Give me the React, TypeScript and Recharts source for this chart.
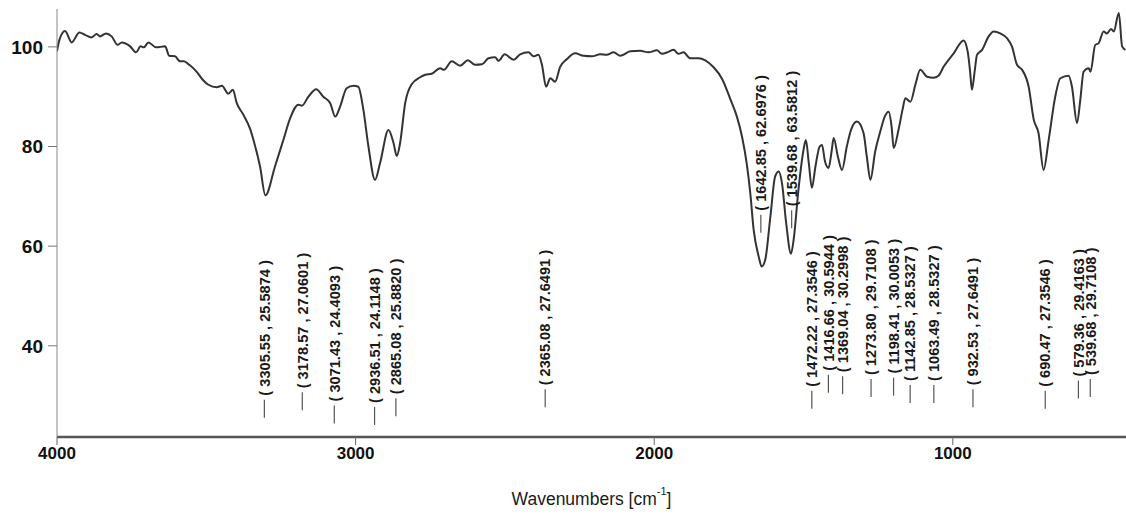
import { ComposedChart, Line, Scatter, XAxis, YAxis } from "recharts"

const FONT = "'Liberation Sans', Arial, sans-serif"

// IR spectrum, wavenumber (cm-1) vs transmittance (%)
const WAVENUMBERS = [
  4000, 3992, 3973, 3951, 3925, 3906, 3884, 3867, 3856, 3836, 3817, 3797, 3783, 3755, 3735, 3720, 3709, 3694,
  3668, 3638, 3624, 3605, 3588, 3575, 3557, 3532, 3512, 3493, 3465, 3448, 3426, 3411, 3398, 3376, 3353, 3342,
  3320, 3302, 3270, 3242, 3219, 3192, 3180, 3158, 3132, 3108, 3085, 3068, 3052, 3030, 3007, 2991, 2974, 2957,
  2935, 2918, 2890, 2873, 2862, 2851, 2834, 2812, 2784, 2767, 2745, 2717, 2704, 2678, 2650, 2624, 2600, 2577,
  2555, 2533, 2521, 2501, 2471, 2449, 2421, 2404, 2388, 2376, 2362, 2348, 2332, 2315, 2293, 2265, 2237, 2209,
  2181, 2159, 2136, 2114, 2080, 2047, 2019, 1991, 1974, 1952, 1935, 1919, 1902, 1879, 1852, 1829, 1801, 1773,
  1745, 1723, 1706, 1690, 1678, 1667, 1650, 1640, 1628, 1611, 1595, 1583, 1572, 1558, 1542, 1533, 1517, 1500,
  1492, 1482, 1472, 1460, 1446, 1438, 1428, 1416, 1406, 1399, 1385, 1371, 1355, 1340, 1321, 1299, 1288, 1276,
  1260, 1243, 1228, 1215, 1205, 1198, 1182, 1168, 1159, 1142, 1125, 1109, 1086, 1065, 1048, 1031, 997, 964,
  950, 942, 936, 926, 919, 902, 880, 863, 841, 818, 802, 785, 768, 746, 729, 713, 696, 679, 657, 640, 612, 601,
  584, 573, 562, 545, 539, 523, 512, 495, 484, 470, 461, 444, 433, 422,
]

const TRANSMITTANCE = [
  99.1, 101.4, 103.2, 100.9, 102.9, 102.4, 101.9, 102.6, 102.1, 102.7, 102.1, 100.4, 100.9, 100.1, 98.9, 100.1,
  99.9, 100.9, 99.9, 100.1, 98.2, 98.1, 97.1, 97.1, 96.4, 95.0, 93.4, 92.4, 91.9, 92.2, 90.6, 91.4, 88.7, 86.4,
  83.5, 81.3, 76.0, 70.2, 76.0, 81.3, 85.7, 88.4, 88.2, 90.0, 91.5, 90.0, 88.7, 86.0, 88.0, 91.7, 92.2, 92.0,
  87.4, 80.0, 73.3, 76.7, 83.3, 80.7, 78.1, 80.7, 88.7, 92.5, 93.9, 94.4, 94.6, 95.7, 95.4, 97.1, 96.2, 97.3,
  96.4, 96.5, 97.7, 97.9, 97.2, 98.5, 97.4, 98.5, 98.9, 98.1, 98.4, 96.4, 92.0, 93.7, 93.0, 96.0, 97.5, 98.7,
  98.2, 98.1, 98.5, 98.4, 98.9, 98.2, 99.1, 99.2, 98.9, 99.3, 98.6, 99.0, 99.4, 98.6, 98.9, 97.7, 97.7, 97.3,
  95.9, 93.6, 89.5, 86.0, 82.0, 76.5, 70.5, 63.3, 57.9, 55.9, 57.3, 65.9, 74.0, 75.0, 72.6, 64.6, 58.5, 61.3,
  71.3, 79.3, 81.3, 76.5, 71.7, 76.0, 80.0, 80.3, 77.0, 75.7, 79.0, 81.7, 78.0, 75.3, 80.0, 83.5, 85.0, 82.7,
  78.0, 73.3, 79.0, 83.0, 86.0, 87.0, 84.0, 79.7, 83.3, 87.5, 89.7, 89.0, 92.5, 95.4, 94.0, 93.8, 94.2, 96.0,
  98.7, 101.3, 99.0, 95.0, 91.4, 95.5, 98.4, 99.4, 102.1, 103.1, 102.7, 101.7, 100.1, 96.4, 95.4, 92.0, 85.4,
  82.7, 75.3, 81.3, 90.0, 93.7, 94.2, 92.0, 84.7, 89.4, 95.0, 95.7, 95.0, 100.4, 100.7, 103.1, 102.7, 103.6,
  103.1, 106.8, 100.1, 99.4,
]

// peak annotations: position of each label (x, y)
const PEAK_WN = [
  3305.55, 3178.57, 3071.43, 2936.51, 2865.08, 2365.08, 1642.85, 1539.68, 1472.22, 1416.66, 1369.04, 1273.8,
  1198.41, 1142.85, 1063.49, 932.53, 690.47, 579.36, 539.68,
]
const PEAK_Y = [
  25.5874, 27.0601, 24.4093, 24.1148, 25.882, 27.6491, 62.6976, 63.5812, 27.3546, 30.5944, 30.2998, 29.7108,
  30.0053, 28.5327, 28.5327, 27.6491, 27.3546, 29.4163, 29.7108,
]

const X_TICKS = [4000, 3000, 2000, 1000]
const Y_TICKS = [40, 60, 80, 100]

const spectrum = WAVENUMBERS.map((wn, i) => ({ wn, t: TRANSMITTANCE[i] }))
const peaks = PEAK_WN.map((wn, i) => ({ wn, t: PEAK_Y[i] }))

function PeakMark(props: any) {
  const { cx, cy, payload } = props
  if (cx == null || cy == null) return null
  const label = `( ${payload.wn.toFixed(2)} , ${payload.t.toFixed(4)} )`
  const ty = cy - 22
  return (
    <g>
      <line x1={cx} x2={cx} y1={cy - 18} y2={cy} stroke="#555" strokeWidth={1.2} />
      <text
        x={cx}
        y={ty}
        transform={`rotate(-90 ${cx} ${ty})`}
        dy="0.36em"
        fontSize={14.6}
        fontWeight="bold"
        fill="#1a1a1a"
        fontFamily={FONT}
      >
        {label}
      </text>
    </g>
  )
}

function AxisTitle(props: any) {
  const { viewBox } = props
  if (!viewBox) return null
  const cx = viewBox.x + viewBox.width / 2
  const y = viewBox.y + 68
  return (
    <text x={cx} y={y} textAnchor="middle" fontSize={17.5} fontFamily={FONT} fill="#1a1a1a">
      Wavenumbers [cm
      <tspan dy={-10} fontSize={11}>
        -1
      </tspan>
      <tspan dy={10}>]</tspan>
    </text>
  )
}

export default function App() {
  return (
    <div style={{ position: "absolute", left: 0, top: 0, background: "#fff" }}>
      <ComposedChart width={1126} height={520} margin={{ top: 9, right: 0, bottom: 53, left: 0 }}>
        <XAxis
          type="number"
          dataKey="wn"
          domain={[420, 4000]}
          reversed
          allowDataOverflow
          ticks={X_TICKS}
          interval={0}
          height={30}
          tickSize={8}
          axisLine={{ stroke: "#555", strokeWidth: 2.5 }}
          tickLine={{ stroke: "#666" }}
          tick={{ fontSize: 17, fontWeight: "bold", fill: "#111", fontFamily: FONT }}
          label={<AxisTitle />}
        />
        <YAxis
          type="number"
          domain={[21.7, 107.6]}
          allowDataOverflow
          ticks={Y_TICKS}
          interval={0}
          width={57}
          tickSize={9}
          tickMargin={5}
          axisLine={{ stroke: "#888" }}
          tickLine={{ stroke: "#777" }}
          tick={{ fontSize: 19, fontWeight: "bold", fill: "#111", fontFamily: FONT }}
        />
        <Line
          data={spectrum}
          dataKey="t"
          type="monotone"
          stroke="#333"
          strokeWidth={2}
          dot={false}
          activeDot={false}
          isAnimationActive={false}
        />
        <Scatter data={peaks} dataKey="t" shape={(p: any) => <PeakMark {...p} />} isAnimationActive={false} />
      </ComposedChart>
    </div>
  )
}
